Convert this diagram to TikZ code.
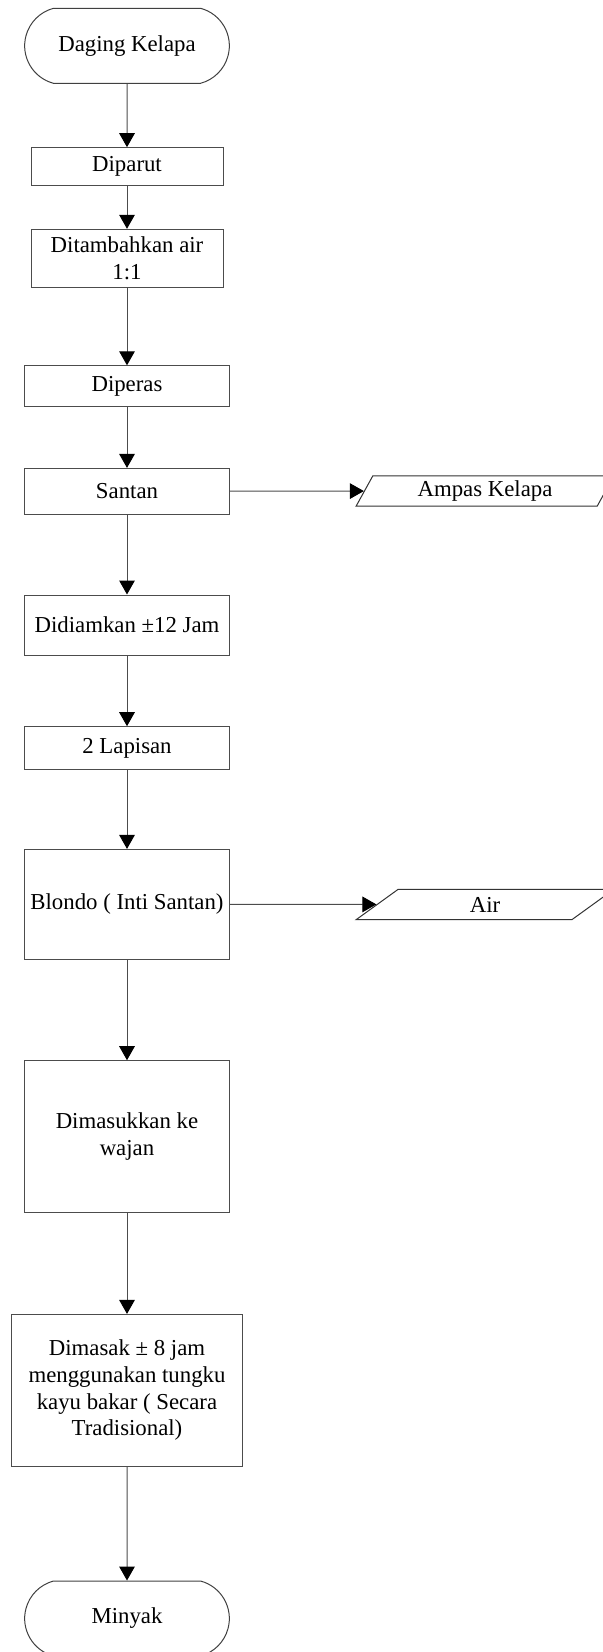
\documentclass[tikz,border=0pt]{standalone}
\usepackage{fontspec}
\setmainfont{Liberation Serif}
\usepackage{tikz}
\usetikzlibrary{shapes.misc, shapes.geometric, arrows.meta}

\tikzset{
	proc/.style={draw=black!70, line width=0.5pt, rectangle, inner sep=1pt, align=center, minimum width=102.5pt},
	term/.style={draw=black!75, line width=0.5pt, rounded rectangle, rounded rectangle arc length=150, minimum width=109pt, minimum height=37.5pt},
	outp/.style={draw=black!80, line width=0.5pt, trapezium, trapezium left angle=64, trapezium right angle=116, trapezium stretches=true, minimum width=129pt, minimum height=15.2pt, inner sep=0pt},
	flow/.style={draw=black!70, line width=0.5pt, -{Triangle[length=7pt, width=7.8pt, color=black]}}
}

\begin{document}
\begin{tikzpicture}[x=0.5pt, y=-0.5pt, font=\fontsize{11.4}{13.3}\selectfont]
	\useasboundingbox (0,0) rectangle (603,1652);
	\node[term] (daging) at (127, 45.8) {Daging Kelapa};
	\node[proc, minimum width=96pt, minimum height=18.8pt] (parut) at (127, 166.5) {Diparut};
	\node[proc, minimum width=96pt, minimum height=29pt] (tambah) at (127, 258.3) {Ditambahkan air\\1:1};
	\node[proc, minimum height=20.6pt] (peras) at (127, 386.4) {Diperas};
	\node[proc, minimum height=22.8pt] (santan) at (127, 491.2) {Santan};
	\node[proc, minimum height=30pt] (diam) at (127, 625) {Didiamkan ±12 Jam};
	\node[proc, minimum height=21.2pt] (lapis) at (127, 747.9) {2 Lapisan};
	\node[proc, minimum height=54.8pt] (blondo) at (127, 904.2) {Blondo ( Inti Santan)};
	\node[proc, minimum height=76pt] (masuk) at (127, 1136.7) {Dimasukkan ke\\wajan};
	\node[proc, minimum width=115.2pt, minimum height=75.8pt] (masak) at (127, 1390.2) {Dimasak ± 8 jam\\menggunakan tungku\\kayu bakar ( Secara\\Tradisional)};
	\node[term] (minyak) at (127, 1618.5) {Minyak};
	\node[outp] (ampas) at (485, 491) {Ampas Kelapa};
	\node[outp] (air) at (485, 904.5) {Air};

	\draw[flow] (daging) -- (parut);
	\draw[flow] (parut) -- (tambah);
	\draw[flow] (tambah) -- (peras);
	\draw[flow] (peras) -- (santan);
	\draw[flow] (santan) -- (diam);
	\draw[flow] (diam) -- (lapis);
	\draw[flow] (lapis) -- (blondo);
	\draw[flow] (blondo) -- (masuk);
	\draw[flow] (masuk) -- (masak);
	\draw[flow] (masak) -- (minyak);
	\draw[flow] (santan) -- (ampas);
	\draw[flow] (blondo) -- (air);
\end{tikzpicture}
\end{document}
